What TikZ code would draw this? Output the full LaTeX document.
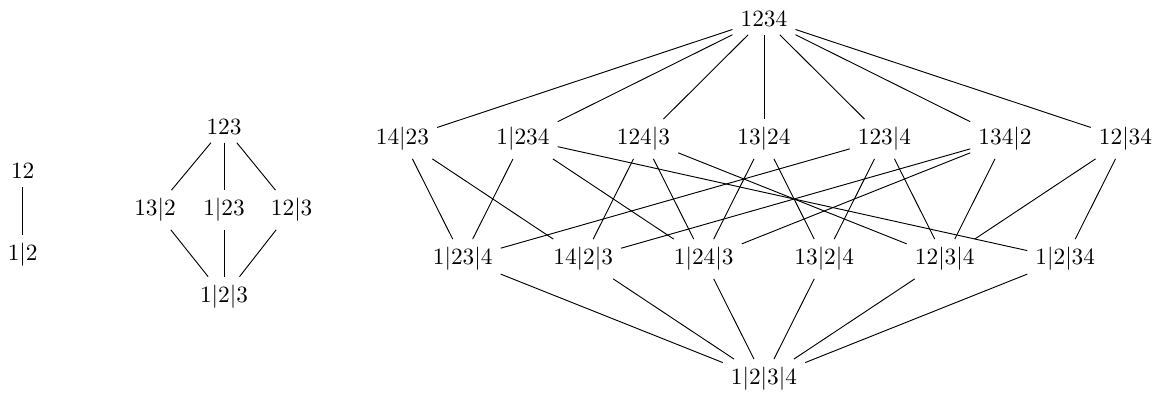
\documentclass[tikz,border=0pt]{standalone}
\usepackage{amsmath}
\usepackage{tikz}

\begin{document}
\begin{tikzpicture}[scale=1]
        \useasboundingbox (0,0) rectangle (17.56,-5.944);
        % Partitions of {1,2}
        \node (p12) at (0.342,-2.587) {$12$};
        \node (p1-2) at (0.342,-3.847) {$1|2$};
        \draw (p12) -- (p1-2);
        % Partitions of {1,2,3}
        \node (p123) at (3.379,-1.916) {$123$};
        \node (p13-2) at (2.338,-3.168) {$13|2$};
        \node (p1-23) at (3.379,-3.168) {$1|23$};
        \node (p12-3) at (4.400,-3.168) {$12|3$};
        \node (p1-2-3) at (3.379,-4.473) {$1|2|3$};
        \foreach \a in {13-2,1-23,12-3} \draw (p123) -- (p\a) -- (p1-2-3);
        % Partitions of {1,2,3,4}
        \begin{scope}[shift={(11.525,-0.287)},x=1.818cm,y=1.81cm]
        \node (p1234) at (0,0) {$1234$};
        \foreach \n/\t [count=\i] in {14-23/14|23,1-234/1|234,124-3/124|3,13-24/13|24,123-4/123|4,134-2/134|2,12-34/12|34}
            \node (p\n) at (\i-4,-1) {$\t$};
        \foreach \n/\t [count=\i] in {1-23-4/1|23|4,14-2-3/14|2|3,1-24-3/1|24|3,13-2-4/13|2|4,12-3-4/12|3|4,1-2-34/1|2|34}
            \node (p\n) at (\i-3.5,-2) {$\t$};
        \node (p1-2-3-4) at (0,-3) {$1|2|3|4$};
        % Add the covering relations
        \foreach \a in {14-23,1-234,124-3,13-24,123-4,134-2,12-34} \draw (p1234) -- (p\a);
        \foreach \a/\b in {14-23/1-23-4,14-23/14-2-3,1-234/1-23-4,1-234/1-24-3,1-234/1-2-34,
            124-3/14-2-3,124-3/1-24-3,124-3/12-3-4,13-24/1-24-3,13-24/13-2-4,
            123-4/1-23-4,123-4/13-2-4,123-4/12-3-4,134-2/14-2-3,134-2/1-24-3,134-2/12-3-4,
            12-34/12-3-4,12-34/1-2-34} \draw (p\a) -- (p\b);
        \foreach \a in {1-23-4,14-2-3,1-24-3,13-2-4,12-3-4,1-2-34} \draw (p\a) -- (p1-2-3-4);
        \end{scope}
    \end{tikzpicture}
\end{document}
